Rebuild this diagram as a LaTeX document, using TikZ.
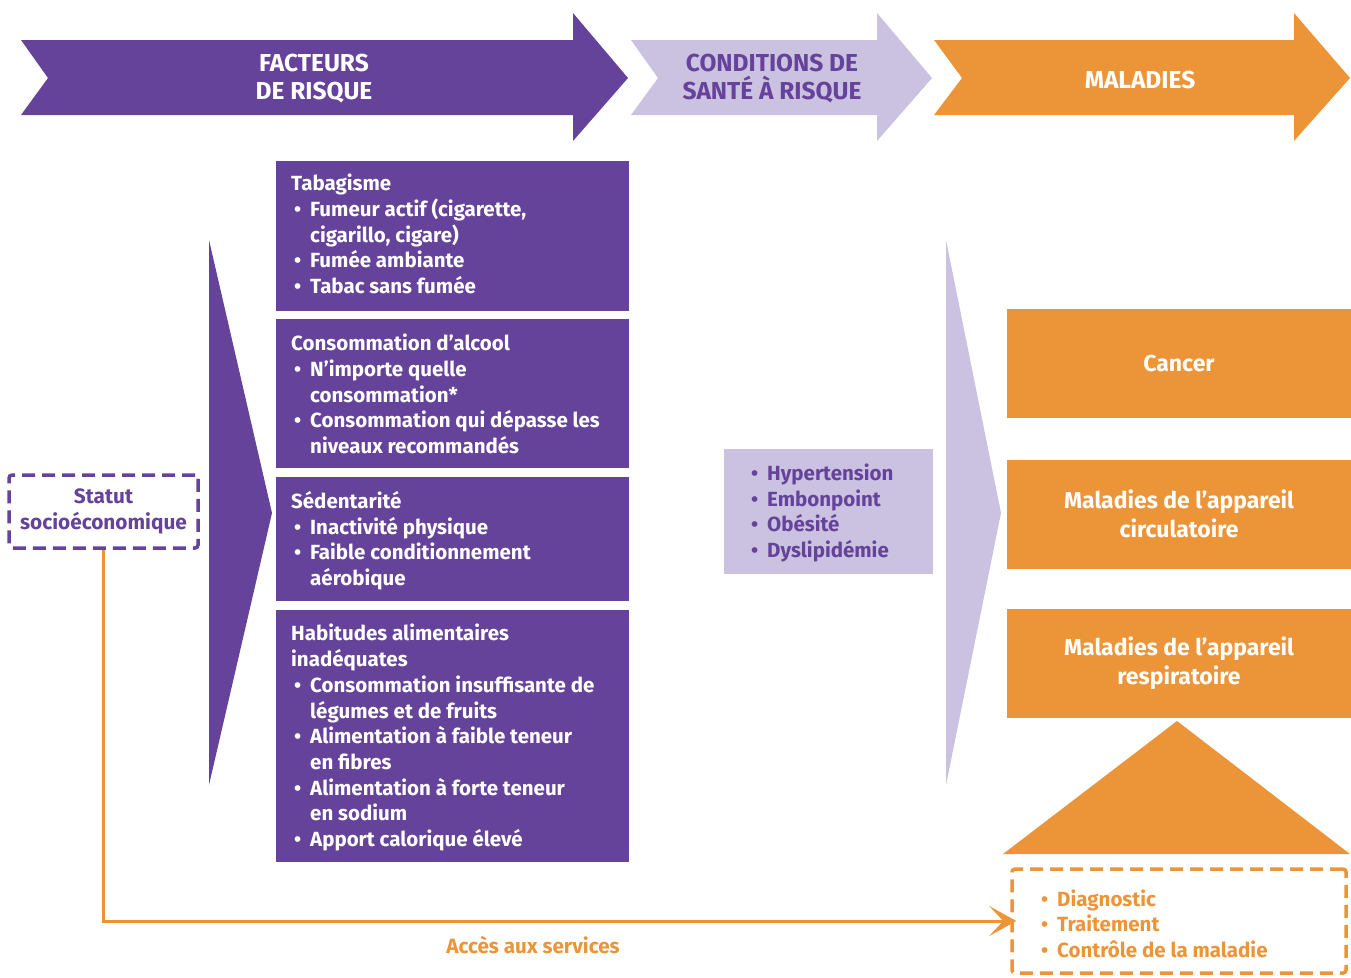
\documentclass[tikz,border=0pt]{standalone}
\usepackage{fontspec}
\setmainfont{Fira Sans}
\usetikzlibrary{arrows.meta}
\definecolor{pur}{HTML}{65439A}
\definecolor{lpur}{HTML}{CBC1E0}
\definecolor{ora}{HTML}{EC9538}
\newcommand{\bul}{\makebox[19pt][l]{\hspace{3pt}•}}
\newcommand{\ind}{\hspace*{19pt}}
\begin{document}
\begin{tikzpicture}[x=1pt,y=-1pt,
  body/.style={font=\fontsize{20.5}{25.7}\selectfont\bfseries, inner sep=0pt, anchor=base west, align=left},
  head/.style={font=\fontsize{24.5}{28}\selectfont\bfseries, inner sep=0pt, align=center},
  rbox/.style={inner sep=0pt, anchor=north west},
  obox/.style={fill=ora, text=white, inner sep=0pt, minimum width=344pt, minimum height=109pt, font=\fontsize{23}{28.5}\selectfont\bfseries, align=center},
  dbox/.style={line width=3.5pt, dash pattern=on 13pt off 7pt, rounded corners=3pt, inner sep=0pt}
]
\useasboundingbox (0,0) rectangle (1351,977);
% top arrows
\fill[pur] (21,40) -- (573,40) -- (573,13) -- (628,78) -- (573,141) -- (573,115) -- (21,115) -- (48,78) -- cycle;
\fill[lpur] (631,40) -- (877,40) -- (877,13) -- (932,78) -- (877,141) -- (877,115) -- (631,115) -- (658,78) -- cycle;
\fill[ora] (934,40) -- (1294,40) -- (1294,13) -- (1350,78) -- (1294,141) -- (1294,115) -- (934,115) -- (962,78) -- cycle;
\node[head, text=white] (t1) at (314,78.5) {FACTEURS\\DE RISQUE};
\node[head, text=pur] (t2) at (772,78.5) {CONDITIONS DE\\SANTÉ À RISQUE};
\node[head, text=white] (t3) at (1140,80.5) {MALADIES};
% big triangles
\fill[pur] (209,240) -- (272,513) -- (209,785) -- cycle;
\fill[lpur] (946,240) -- (1001,513) -- (946,785) -- cycle;
% purple boxes
\node[rbox, fill=pur, minimum width=353pt, minimum height=150pt] (b1) at (276,161) {};
\node[rbox, fill=pur, minimum width=353pt, minimum height=149pt] (b2) at (276,319) {};
\node[rbox, fill=pur, minimum width=353pt, minimum height=124pt] (b3) at (276,477) {};
\node[rbox, fill=pur, minimum width=353pt, minimum height=252pt] (b4) at (276,610) {};
\node[body, text=white] (x1) at (291,293.5) {Tabagisme\\\bul Fumeur actif (cigarette,\\\ind cigarillo, cigare)\\\bul Fumée ambiante\\\bul Tabac sans fumée};
\node[body, text=white] (x2) at (291,453.5) {Consommation d’alcool\\\bul N’importe quelle\\\ind consommation*\\\bul Consommation qui dépasse les\\\ind niveaux recommandés};
\node[body, text=white] (x3) at (291,585.5) {Sédentarité\\\bul Inactivité physique\\\bul Faible conditionnement\\\ind aérobique};
\node[body, text=white] (x4) at (291,846.5) {Habitudes alimentaires\\inadéquates\\\bul Consommation insuffisante de\\\ind légumes et de fruits\\\bul Alimentation à faible teneur\\\ind en fibres\\\bul Alimentation à forte teneur\\\ind en sodium\\\bul Apport calorique élevé};
% conditions box
\node[rbox, fill=lpur, minimum width=209pt, minimum height=125pt] (cbox) at (724,449) {};
\node[body, text=pur] (cx) at (748,557.5) {\bul Hypertension\\\bul Embonpoint\\\bul Obésité\\\bul Dyslipidémie};
% diseases
\node[obox] (cancer) at (1179,363.5) {Cancer};
\node[obox] (circ) at (1179,514) {Maladies de l’appareil\\circulatoire};
\node[obox] (resp) at (1179,663) {Maladies de l’appareil\\respiratoire};
\fill[ora] (1003,854) -- (1177,721) -- (1350,854) -- cycle;
% dashed boxes
\node[dbox, draw=pur, minimum width=189pt, minimum height=73pt, text=pur, font=\fontsize{20.8}{26}\selectfont\bfseries, align=center] (statut) at (103.5,511.5) {Statut\\socioéconomique};
\node[dbox, draw=ora, minimum width=334pt, minimum height=104pt] (diag) at (1179,921) {};
\node[body, text=ora] (dx) at (1038,957.5) {\bul Diagnostic\\\bul Traitement\\\bul Contrôle de la maladie};
% connector
\draw[ora, line width=3pt, shorten >=-6pt, -{Stealth[length=27pt, width=30pt, inset=14pt]}] (statut.south) |- (diag.west);
\node[text=ora, font=\fontsize{20.7}{24}\selectfont\bfseries, inner sep=0pt] (acc) at (533,945) {Accès aux services};
\end{tikzpicture}
\end{document}
